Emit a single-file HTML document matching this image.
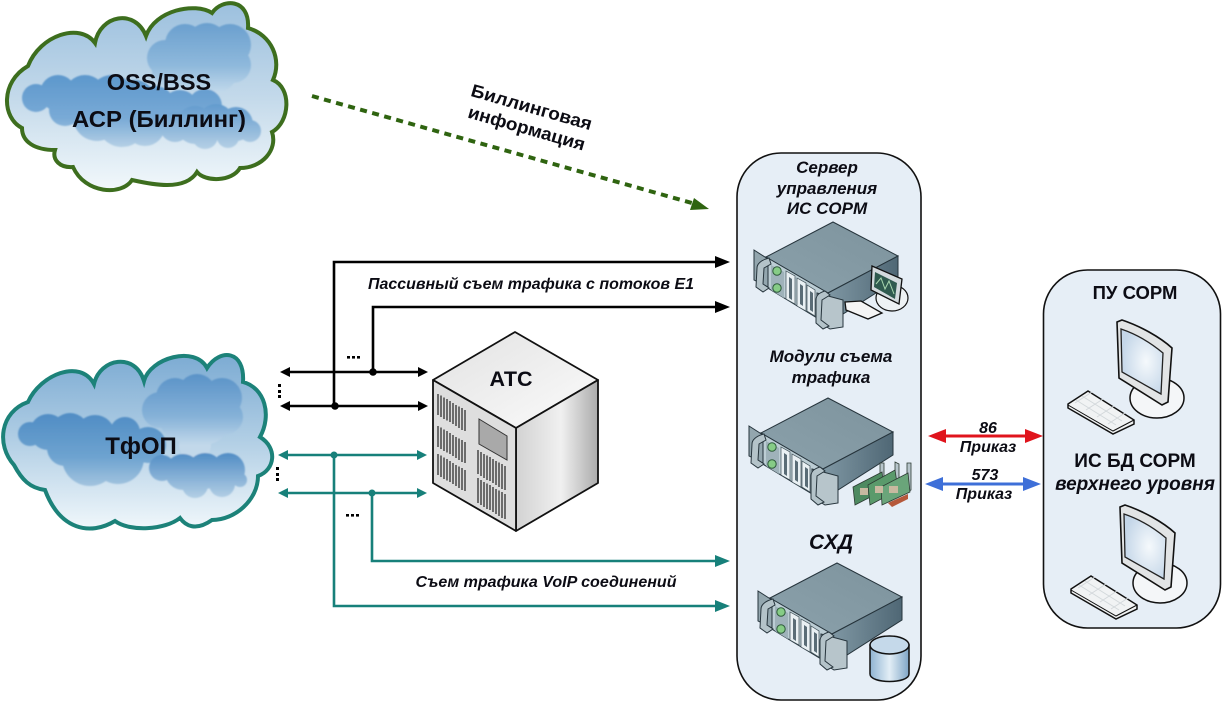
<!DOCTYPE html>
<html><head><meta charset="utf-8"><style>
html,body{margin:0;padding:0;background:#fff;width:1222px;height:702px;overflow:hidden}
svg{display:block}
text{font-family:"Liberation Sans",sans-serif;fill:#0c0c14;text-anchor:middle}
.b{font-weight:bold}.i{font-weight:bold;font-style:italic}
</style></head><body>
<svg width="1222" height="702" viewBox="0 0 1222 702" xmlns="http://www.w3.org/2000/svg">
<defs>
<filter id="soft" x="-5%" y="-5%" width="110%" height="110%"><feGaussianBlur stdDeviation="0.7"/></filter>
<linearGradient id="c1" x1="0" y1="0" x2="0" y2="1"><stop offset="0" stop-color="#9cc0de"/><stop offset=".5" stop-color="#c3d9ea"/><stop offset="1" stop-color="#f2f8fb"/></linearGradient>
<linearGradient id="c2" x1="0" y1="0" x2="0" y2="1"><stop offset="0" stop-color="#7cabd3"/><stop offset=".5" stop-color="#b2cfe5"/><stop offset="1" stop-color="#f0f7fb"/></linearGradient>
<linearGradient id="b1a" gradientUnits="userSpaceOnUse" x1="0" y1="23" x2="0" y2="95"><stop offset="0" stop-color="#6a9fce"/><stop offset=".6" stop-color="#8fb9dc"/><stop offset="1" stop-color="#c7dcec"/></linearGradient>
<linearGradient id="b1b" gradientUnits="userSpaceOnUse" x1="0" y1="74" x2="0" y2="148"><stop offset="0" stop-color="#5c97cc"/><stop offset=".6" stop-color="#79aad6"/><stop offset="1" stop-color="#b7d1e6"/></linearGradient>
<linearGradient id="b1c" gradientUnits="userSpaceOnUse" x1="0" y1="103" x2="0" y2="150"><stop offset="0" stop-color="#5f99cd"/><stop offset="1" stop-color="#b7d1e6"/></linearGradient>
<linearGradient id="b2a" gradientUnits="userSpaceOnUse" x1="0" y1="375" x2="0" y2="445"><stop offset="0" stop-color="#5b93c8"/><stop offset=".6" stop-color="#86b2d8"/><stop offset="1" stop-color="#c2d8ea"/></linearGradient>
<linearGradient id="b2b" gradientUnits="userSpaceOnUse" x1="0" y1="412" x2="0" y2="488"><stop offset="0" stop-color="#4f8cc4"/><stop offset=".6" stop-color="#6ea3d0"/><stop offset="1" stop-color="#a6c6e0"/></linearGradient>
<linearGradient id="b2c" gradientUnits="userSpaceOnUse" x1="0" y1="455" x2="0" y2="498"><stop offset="0" stop-color="#558fc6"/><stop offset="1" stop-color="#b3cfe5"/></linearGradient>
<linearGradient id="top" x1="0" y1="1" x2="1" y2="0"><stop offset="0" stop-color="#8ba1ab"/><stop offset="1" stop-color="#7d939d"/></linearGradient>
<linearGradient id="side" x1="0" y1="0" x2="1" y2="0"><stop offset="0" stop-color="#7f97a3"/><stop offset="1" stop-color="#4f6775"/></linearGradient>
<linearGradient id="atcR" x1="0" y1="0" x2="1" y2="0"><stop offset="0" stop-color="#d2d2d2"/><stop offset=".55" stop-color="#f0f0f0"/><stop offset="1" stop-color="#ababab"/></linearGradient>
<linearGradient id="atcT" x1="0" y1="0" x2="1" y2="1"><stop offset="0" stop-color="#e2e2e2"/><stop offset="1" stop-color="#fbfbfb"/></linearGradient>
<linearGradient id="cyl" x1="0" y1="0" x2="1" y2="0"><stop offset="0" stop-color="#8fb3d2"/><stop offset=".5" stop-color="#e2eef6"/><stop offset="1" stop-color="#7fa5c6"/></linearGradient>
<radialGradient id="scr" cx=".6" cy=".5" r=".6"><stop offset="0" stop-color="#f5f9fc"/><stop offset="1" stop-color="#c4d6e8"/></radialGradient>
<g id="srv">
<path d="M766,257 L833,222 L898,256 L828,293 Z" fill="url(#top)" stroke="#26343c" stroke-width="1"/>
<path d="M828,293 L898,256 L898,279 L843,314 L828,318 Z" fill="url(#side)" stroke="#26343c" stroke-width="1"/>
<path d="M766,257 L828,293 L828,300 L817,318 L766,287 Z" fill="#bccdd4" stroke="#26343c" stroke-width="1"/>
<path d="M754,250 L768,259 L768,287 L754,280 Z" fill="#93a6ae" stroke="#26343c" stroke-width="1"/>
<path d="M769,258 C761,260 757,264 757,268 L756,287 L763,292 L769,288 L763,284 L764,268 L771,264 Z" fill="#b4c3c9" stroke="#26343c" stroke-width="1"/>
<path d="M771,265 L784,272 L784,298 L771,290 Z" fill="#9fb2ba"/>
<circle cx="777" cy="271" r="4.200" fill="#86cc86" stroke="#2d5a3a"/>
<circle cx="777" cy="288" r="4.200" fill="#86cc86" stroke="#2d5a3a"/>
<path d="M786,271 L795,276 L795,304 L786,299 Z" fill="#e9f0f3" stroke="#3c4c54" stroke-width=".7"/>
<path d="M789,277 L792,279 L792,300 L789,298 Z" fill="#5a6c76"/>
<path d="M797,278 L806,283 L806,311 L797,306 Z" fill="#e9f0f3" stroke="#3c4c54" stroke-width=".7"/>
<path d="M800,284 L803,286 L803,306 L800,304 Z" fill="#5a6c76"/>
<path d="M807,285 L815,290 L815,316 L807,311 Z" fill="#e9f0f3" stroke="#3c4c54" stroke-width=".7"/>
<path d="M810,291 L813,293 L813,312 L810,310 Z" fill="#5a6c76"/>
<path d="M817,293 L843,300 L843,327 L830,329 L817,321 Z" fill="#b7c5cb" stroke="#26343c" stroke-width="1"/>
<path d="M825,291 C818,293 816,296 816,300 L816,323 L823,329 L829,326 L821,320 L822,300 L830,295 Z" fill="#b4c3c9" stroke="#26343c" stroke-width="1"/>
</g>
<g id="pc">
<ellipse cx="1157" cy="398" rx="27" ry="20" fill="#f4f6f8" stroke="#111" stroke-width="1.500"/>
<path d="M1117,322 L1122,320 C1140,326 1160,337 1172,348 L1168,402 L1162,405 L1119,378 Z" fill="#e2e4e5" stroke="#111" stroke-width="1.600"/>
<path d="M1121,329 C1136,334 1151,343 1163,353 L1161,394 L1122,372 Z" fill="url(#scr)" stroke="#222" stroke-width="1.300"/>
<path d="M1088,391 L1134,420 L1134,424 L1113,434 L1068,408 L1068,404 Z" fill="#f1f3f4" stroke="#111" stroke-width="1.500"/>
<path d="M1068,405 L1113,431 L1134,420" fill="none" stroke="#111" stroke-width="1"/>
<path d="M1082,396 L1122,421 M1076,400 L1116,425 M1092,392 L1075,403 M1103,399 L1086,410 M1114,406 L1097,417 M1125,413 L1108,424" stroke="#d3d8db" stroke-width="1" fill="none"/>
</g>
</defs>

<!-- Cloud 1 -->
<path d="M28,66 C40,35 80,22 95,43 C100,15 135,8 146,36 C155,10 195,2 212,13 C222,-2 250,-2 248,28 C272,35 282,60 273,80 C292,88 290,122 272,132 C278,150 262,168 240,168 C232,182 205,182 197,172 C185,192 150,184 132,180 C122,196 85,194 73,167 C60,168 52,160 55,150 C35,150 22,142 22,128 C2,118 0,82 28,66 Z" fill="url(#c1)" stroke="#3d6e1e" stroke-width="4"/>
<g filter="url(#soft)">
<g fill="url(#b1a)"><circle cx="165" cy="58" r="18"/><circle cx="185" cy="44" r="20"/><circle cx="207" cy="43" r="20"/><circle cx="230" cy="45" r="21"/><circle cx="233" cy="65" r="18"/><circle cx="190" cy="65" r="26"/><circle cx="215" cy="70" r="23"/><circle cx="168" cy="70" r="16"/></g>
<g fill="url(#b1b)"><circle cx="36" cy="98" r="14"/><circle cx="58" cy="93" r="18"/><circle cx="85" cy="96" r="21"/><circle cx="112" cy="98" r="23"/><circle cx="135" cy="100" r="20"/><circle cx="155" cy="106" r="20"/><circle cx="180" cy="108" r="18"/><circle cx="205" cy="106" r="17"/><circle cx="97" cy="117" r="24"/><circle cx="122" cy="122" r="25"/><circle cx="145" cy="126" r="20"/><circle cx="65" cy="110" r="16"/></g>
<g fill="url(#b1c)"><circle cx="175" cy="127" r="15"/><circle cx="195" cy="125" r="19"/><circle cx="216" cy="122" r="18"/><circle cx="236" cy="124" r="17"/><circle cx="250" cy="131" r="11"/><circle cx="205" cy="136" r="13"/><circle cx="228" cy="137" r="11"/></g>
</g>
<!-- Cloud 2 -->
<path d="M28,402 C40,375 80,358 94,384 C100,358 135,352 144,381 C150,358 195,345 207,368 C220,348 245,350 243,382 C265,388 272,415 260,437 C278,448 275,470 258,476 C258,500 235,520 212,520 C195,532 185,525 180,518 C165,530 130,532 115,521 C90,536 60,530 45,490 C30,488 22,480 14,465 C-4,445 0,412 28,402 Z" fill="url(#c2)" stroke="#1c8279" stroke-width="4"/>
<g filter="url(#soft)">
<g fill="url(#b2a)"><circle cx="160" cy="410" r="18"/><circle cx="175" cy="397" r="19"/><circle cx="197" cy="393" r="19"/><circle cx="222" cy="398" r="20"/><circle cx="226" cy="417" r="17"/><circle cx="185" cy="415" r="27"/><circle cx="207" cy="422" r="22"/><circle cx="195" cy="445" r="16"/></g>
<g fill="url(#b2b)"><circle cx="30" cy="434" r="12"/><circle cx="48" cy="432" r="18"/><circle cx="70" cy="432" r="19"/><circle cx="95" cy="435" r="20"/><circle cx="125" cy="432" r="15"/><circle cx="148" cy="445" r="18"/><circle cx="90" cy="458" r="28"/><circle cx="118" cy="458" r="26"/><circle cx="65" cy="448" r="18"/></g>
<g fill="url(#b2c)"><circle cx="162" cy="468" r="13"/><circle cx="183" cy="472" r="18"/><circle cx="205" cy="471" r="18"/><circle cx="228" cy="470" r="17"/><circle cx="240" cy="480" r="7"/><circle cx="195" cy="485" r="13"/><circle cx="222" cy="484" r="13"/></g>
</g>

<text class="b" x="159" y="90" font-size="23.500">OSS/BSS</text>
<text class="b" x="159" y="127" font-size="23" textLength="174" lengthAdjust="spacingAndGlyphs">АСР (Биллинг)</text>
<text class="b" x="141" y="454" font-size="24">ТфОП</text>

<!-- Panels -->
<rect x="737" y="153" width="184" height="547" rx="44" fill="#e6eef6" stroke="#111" stroke-width="1.600"/>
<rect x="1043.500" y="270" width="177" height="358" rx="44" fill="#e6eef6" stroke="#111" stroke-width="1.600"/>

<!-- Green dashed -->
<line x1="312" y1="96" x2="692" y2="203" stroke="#2f6410" stroke-width="4" stroke-dasharray="7,5.500"/>
<path d="M709,209 L690,210 L694,198 Z" fill="#2f6410"/>
<text transform="translate(530,113) rotate(16)" font-size="18" font-weight="bold" textLength="125" lengthAdjust="spacingAndGlyphs">Биллинговая</text>
<text transform="translate(525,134) rotate(16)" font-size="18" font-weight="bold" textLength="121" lengthAdjust="spacingAndGlyphs">информация</text>

<!-- Black connectors -->
<g fill="none" stroke="#000" stroke-width="2.600">
<path d="M334,406 V262 H718"/><path d="M373,372 V307 H718"/>
<path d="M288,372 H420"/><path d="M288,406 H420"/>
</g>
<g fill="#000">
<path d="M730,262 L715,256 V268 Z"/><path d="M730,307 L715,301 V313 Z"/>
<path d="M280,372 L290,367 V377 Z"/><path d="M280,406 L290,401 V411 Z"/>
<path d="M428,372 L418,367 V377 Z"/><path d="M428,406 L418,401 V411 Z"/>
<circle cx="373" cy="372" r="3.800"/><circle cx="335" cy="406" r="3.800"/>
<rect x="347" y="356" width="3" height="2.600"/><rect x="352" y="356" width="3" height="2.600"/><rect x="357" y="356" width="3" height="2.600"/>
<rect x="278" y="384" width="3" height="3"/><rect x="278" y="390" width="3" height="3"/><rect x="278" y="395" width="3" height="3"/>
<rect x="346" y="514" width="3" height="2.600"/><rect x="351" y="514" width="3" height="2.600"/><rect x="356" y="514" width="3" height="2.600"/>
<rect x="276" y="467" width="3" height="3"/><rect x="276" y="473" width="3" height="3"/><rect x="276" y="478" width="3" height="3"/>
</g>
<!-- Teal connectors -->
<g fill="none" stroke="#17807a" stroke-width="2.600">
<path d="M334,455 V606 H718"/><path d="M372,492 V561 H718"/>
<path d="M285,455 H420"/><path d="M285,493 H420"/>
</g>
<g fill="#17807a">
<path d="M730,561 L715,555 V567 Z"/><path d="M730,606 L715,600 V612 Z"/>
<path d="M278,455 L288,450 V460 Z"/><path d="M278,493 L288,488 V498 Z"/>
<path d="M427,455 L417,450 V460 Z"/><path d="M427,493 L417,488 V498 Z"/>
<circle cx="334" cy="455" r="3.500"/><circle cx="372" cy="493" r="3.500"/>
</g>
<text class="i" x="531" y="289" font-size="15.500" textLength="326" lengthAdjust="spacingAndGlyphs">Пассивный съем трафика с потоков Е1</text>
<text class="i" x="546" y="587" font-size="15.500" textLength="261" lengthAdjust="spacingAndGlyphs">Съем трафика VoIP соединений</text>

<!-- ATC -->
<path d="M515,332 L598,380 L516,428 L433,380 Z" fill="url(#atcT)" stroke="#111" stroke-width="1.800" stroke-linejoin="round"/>
<path d="M516,428 L598,380 V483 L516,531 Z" fill="url(#atcR)" stroke="#111" stroke-width="1.800" stroke-linejoin="round"/>
<path d="M433,380 L516,428 V531 L433,483 Z" fill="#dedede" stroke="#111" stroke-width="1.800" stroke-linejoin="round"/>
<path d="M479,419 L507,436 V460 L479,444 Z" fill="#a9a9a9" stroke="#333" stroke-width="1"/>
<g stroke="#222" stroke-width="1.200" fill="none">
<path d="M438,394 V415 M441,395.500 V417 M444,397.500 V419 M447,399 V420.500 M450,401 V422 M453,403 V424 M456,405 V426 M459,406.500 V428 M462,408 V430 M465,410 V431"/>
<path d="M438,426 V447 M441,427.500 V449 M444,429.500 V451 M447,431 V452.500 M450,433 V454 M453,435 V456 M456,437 V458 M459,438.500 V460 M462,440 V462 M465,442 V463"/>
<path d="M438,454 V475 M441,455.500 V477 M444,457.500 V479 M447,459 V480.500 M450,461 V482 M453,463 V484 M456,465 V486 M459,466.500 V488 M462,468 V490 M465,470 V491"/>
<path d="M478,450 V474 M481,452 V476 M484,454 V478 M487,455.500 V480 M490,457 V481 M493,459 V483 M496,461 V485 M499,462.500 V487 M502,464 V489 M505,466 V490"/>
<path d="M478,478 V503 M481,480 V505 M484,482 V507 M487,483.500 V509 M490,485 V510 M493,487 V512 M496,489 V514 M499,490.500 V516 M502,492 V518 M505,494 V519"/>
</g>
<text class="b" x="511" y="386" font-size="21.500">АТС</text>

<!-- Panel text -->
<g font-size="17">
<text class="i" x="827" y="173">Сервер</text>
<text class="i" x="827" y="194">управления</text>
<text class="i" x="827" y="214">ИС СОРМ</text>
<text class="i" x="831" y="362">Модули съема</text>
<text class="i" x="831" y="383">трафика</text>
</g>
<text class="i" x="831" y="549" font-size="21">СХД</text>

<!-- Servers -->
<use href="#srv"/>
<use href="#srv" transform="translate(-5,176)"/>
<use href="#srv" transform="translate(4,341)"/>

<!-- Monitor on server 1 -->
<ellipse cx="892" cy="298" rx="16" ry="13" fill="#eef2f4" stroke="#111" stroke-width="1.200"/>
<path d="M872,266 L902,279 L899,304 L871,290 Z" fill="#d3dadd" stroke="#111" stroke-width="1.300"/>
<path d="M875,272 L897,283 L895,299 L874,287 Z" fill="#2f5a4e"/>
<path d="M876,284 L881,278 L885,289 L889,281 L894,294" fill="none" stroke="#a9d8b0" stroke-width="1"/>
<path d="M845,302 L861,301 L882,313 L868,319 L846,310 Z" fill="#f4f4f4" stroke="#111" stroke-width="1.300"/>

<!-- Cards on server 2 -->
<path d="M888,503 L908,494 L908,499 L892,507 Z" fill="#b5583a"/>
<g stroke="#2c3a32" stroke-width=".8">
<path d="M880,463 L884,463 L884,478 L880,480 Z" fill="#b7c5cb"/>
<path d="M895,462 L899,464 L899,478 L895,480 Z" fill="#b7c5cb"/>
<path d="M907,463 L911,463 L911,490 L907,492 Z" fill="#b7c5cb"/>
<path d="M853,487 L882,472 L884,490 L855,505 Z" fill="#4e8a60"/>
<path d="M868,485 L895,470 L898,490 L870,505 Z" fill="#5a9a6b"/>
<path d="M881,487 L908,473 L910,492 L882,505 Z" fill="#6aa57a"/>
</g>
<path d="M860,488 h8 v7 h-8 Z M875,486 h8 v7 h-8 Z M889,486 h9 v7 h-9 Z" fill="#c8b9a0"/>

<!-- Cylinder -->
<path d="M870,645 V674 C870,684 909,684 909,674 V645 Z" fill="url(#cyl)" stroke="#111" stroke-width="1.500"/>
<ellipse cx="889.500" cy="645" rx="19.500" ry="9" fill="#c5d9ea" stroke="#111" stroke-width="1.500"/>

<!-- Red / blue arrows -->
<line x1="940" y1="436" x2="1032" y2="436" stroke="#e0141c" stroke-width="3"/>
<path d="M928,436 L946,429 V443 Z M1043,436 L1025,429 V443 Z" fill="#e0141c"/>
<line x1="937" y1="484" x2="1030" y2="484" stroke="#3e6fd8" stroke-width="3"/>
<path d="M925,484 L943,477 V491 Z M1041,484 L1023,477 V491 Z" fill="#3e6fd8"/>
<text class="i" x="988" y="433" font-size="16">86</text>
<text class="i" x="988" y="452" font-size="16">Приказ</text>
<text class="i" x="985" y="480" font-size="16">573</text>
<text class="i" x="984" y="499" font-size="16">Приказ</text>

<!-- Right panel -->
<text class="b" x="1135" y="299" font-size="18.500">ПУ СОРМ</text>
<text class="b" x="1135" y="467" font-size="19">ИС БД СОРМ</text>
<text class="i" x="1135" y="490" font-size="19">верхнего уровня</text>
<use href="#pc"/>
<use href="#pc" transform="translate(3,185)"/>
</svg>
</body></html>
